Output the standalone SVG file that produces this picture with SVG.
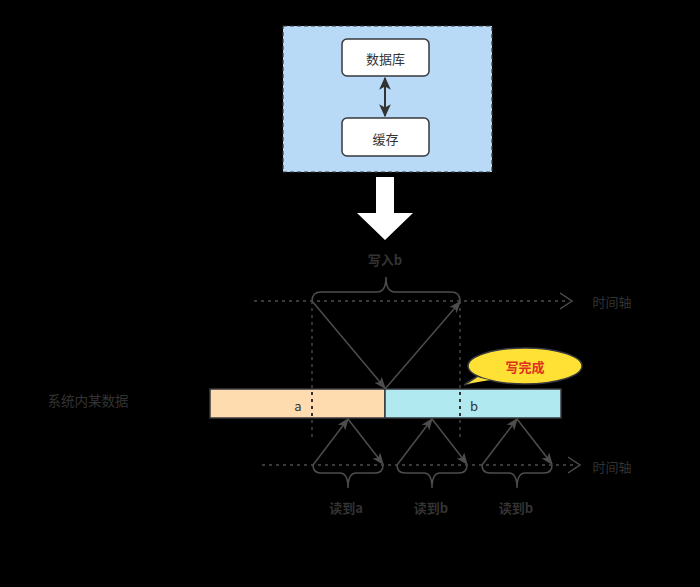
<svg xmlns="http://www.w3.org/2000/svg" width="700" height="587" viewBox="0 0 700 587">
<style>
.t{font-family:"Noto Sans CJK SC","Noto Sans",sans-serif;fill:#333;text-anchor:middle;dominant-baseline:central}
.b{font-weight:bold}
.ln{fill:none;stroke:#4d4d4d;stroke-width:1.5}
.dot{fill:none;stroke:#4d4d4d;stroke-width:1.5;stroke-dasharray:3 4}
.box{fill:#fff;stroke:#36393d;stroke-width:1.5}
</style>
<defs>
<marker id="ah" viewBox="0 0 10 10" refX="9" refY="5" markerWidth="12" markerHeight="12" markerUnits="userSpaceOnUse" orient="auto">
<path d="M0,1 L10,5 L0,9 L2.5,5 Z" fill="#4d4d4d"/>
</marker>
<marker id="dh" viewBox="0 0 10 10" refX="9" refY="5" markerWidth="13" markerHeight="13" markerUnits="userSpaceOnUse" orient="auto-start-reverse">
<path d="M0,0.5 L10,5 L0,9.5 L2.5,5 Z" fill="#333"/>
</marker>
</defs>
<rect width="700" height="587" fill="#000"/>
<g id="container">
<rect x="283" y="26" width="209" height="146" fill="#b9daf6" stroke="#36393d" stroke-width="1.2" stroke-dasharray="4 3"/>
</g>
<g id="db">
<rect class="box" x="342" y="39" width="87" height="37" rx="5"/>
<text class="t" x="385.5" y="58" font-size="13">数据库</text>
</g>
<g id="cache">
<rect class="box" x="342" y="118" width="87" height="38" rx="5"/>
<text class="t" x="385.5" y="138" font-size="13">缓存</text>
</g>
<g id="bigarrow">
<path d="M376,177 L394,177 L394,213 L413,213 L385,240 L357,213 L376,213 Z" fill="#fff"/>
<text class="t b" x="385" y="259" font-size="13">写入b</text>
</g>
<g id="label-system">
<text class="t" x="88" y="400" font-size="13.5">系统内某数据</text>
</g>
<g id="bar-a">
<rect x="210" y="389" width="175" height="29" fill="#ffdcb0" stroke="#36393d" stroke-width="1.5"/>
<text class="t" x="298" y="405" font-size="13">a</text>
</g>
<g id="bar-b">
<rect x="385" y="389" width="176" height="29" fill="#b1e9f1" stroke="#36393d" stroke-width="1.5"/>
<text class="t" x="474" y="405" font-size="13">b</text>
</g>
<g id="callout">
<path d="M486,379 L464,385 L478,376" fill="#ffe135" stroke="#36393d" stroke-width="1.5"/>
<ellipse cx="525" cy="366" rx="57" ry="18" fill="#ffe135" stroke="#36393d" stroke-width="1.5"/>
<path d="M480,378 L466,384 L490,380" fill="#ffe135" stroke="none"/>
<text class="t b" x="525" y="366" font-size="13" style="fill:#e0301e">写完成</text>
</g>
<g id="timeline-top">
<line class="dot" x1="254" y1="301" x2="569" y2="301"/>
<path class="ln" d="M560,293 L572,301 L560,309"/>
<text class="t" x="612" y="301" font-size="13">时间轴</text>
</g>
<g id="timeline-bottom">
<line class="dot" x1="262" y1="465" x2="577" y2="465"/>
<path class="ln" d="M568,457 L580,465 L568,473"/>
<text class="t" x="612" y="466" font-size="13">时间轴</text>
</g>
<g id="connectors">
<line x1="385" y1="78" x2="385" y2="116" stroke="#333" stroke-width="2" marker-start="url(#dh)" marker-end="url(#dh)"/>
<line class="dot" x1="312" y1="301" x2="312" y2="440" style="stroke:#333;stroke-width:2"/>
<line class="dot" x1="460" y1="301" x2="460" y2="440" style="stroke:#333;stroke-width:2"/>
<line class="ln" x1="312" y1="301" x2="385" y2="388" marker-end="url(#ah)"/>
<line class="ln" x1="385" y1="389" x2="460" y2="302" marker-end="url(#ah)"/>
<path class="ln" d="M312,301 Q312,292 321,292 L377,292 Q386,292 386,277 Q386,292 395,292 L451,292 Q460,292 460,301"/>
<line class="ln" x1="313" y1="465" x2="348" y2="419" marker-end="url(#ah)"/>
<line class="ln" x1="348" y1="419" x2="383" y2="464" marker-end="url(#ah)"/>
<line class="ln" x1="397" y1="465" x2="432" y2="419" marker-end="url(#ah)"/>
<line class="ln" x1="432" y1="419" x2="467" y2="464" marker-end="url(#ah)"/>
<line class="ln" x1="482" y1="465" x2="517" y2="419" marker-end="url(#ah)"/>
<line class="ln" x1="517" y1="419" x2="552" y2="464" marker-end="url(#ah)"/>
<path class="ln" d="M313,465 Q313,473 321,473 L340,473 Q348,473 348,488 Q348,473 356,473 L375,473 Q383,473 383,465"/>
<path class="ln" d="M397,465 Q397,473 405,473 L424,473 Q432,473 432,488 Q432,473 440,473 L459,473 Q467,473 467,465"/>
<path class="ln" d="M482,465 Q482,473 490,473 L509,473 Q517,473 517,488 Q517,473 525,473 L544,473 Q552,473 552,465"/>
</g>
<g id="labels-read">
<text class="t b" x="346" y="507" font-size="13">读到a</text>
<text class="t b" x="431" y="507" font-size="13">读到b</text>
<text class="t b" x="516" y="507" font-size="13">读到b</text>
</g>
</svg>
